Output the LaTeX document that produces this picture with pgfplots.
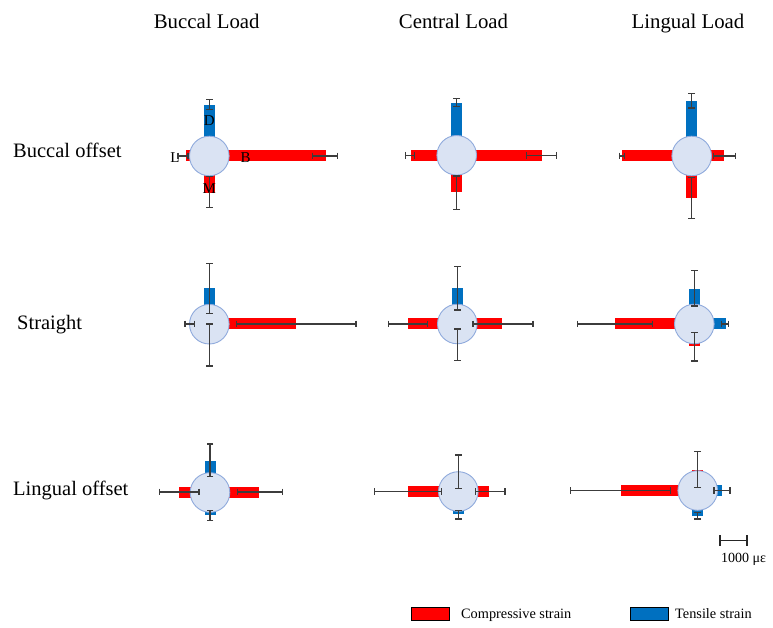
\documentclass[border=0pt]{standalone}
\usepackage{fontspec}
\setmainfont{Liberation Serif}
\usepackage{pgfplots}
\pgfplotsset{compat=1.18}
\definecolor{cred}{HTML}{FF0000}
\definecolor{cblue}{HTML}{0070C0}
\definecolor{circfill}{HTML}{DAE3F3}
\definecolor{circedge}{HTML}{8FAADC}
\definecolor{errc}{HTML}{3C3C3C}
\pgfplotsset{canvas/.style={
  width=773pt, height=628pt, scale only axis,
  xmin=0, xmax=773, ymin=0, ymax=628, y dir=reverse,
  hide axis, clip=false}}
% bar rectangle: x1 y1 x2 y2 colour
\newcommand{\rect}[5]{\addplot[fill=#5,draw=none,forget plot] coordinates {(#1,#2) (#3,#2) (#3,#4) (#1,#4)};}
% horizontal error bar: y xlo xhi
\newcommand{\eh}[3]{\addplot[errc, line width=1.1pt, mark=|, mark size=3.4pt, mark options={solid, line width=1.1pt}, forget plot] coordinates {(#2,#1) (#3,#1)};}
% vertical error bar: x ylo yhi
\newcommand{\ev}[3]{\addplot[errc, line width=1.1pt, mark=-, mark size=3.4pt, mark options={solid, line width=1.1pt}, forget plot] coordinates {(#1,#2) (#1,#3)};}
\begin{document}
\begin{tikzpicture}
\begin{axis}[canvas]
% ---------- bars (x1,y1,x2,y2) ----------
% Row 1: Buccal offset
\rect{203.8}{156}{214.8}{105}{cblue}
\rect{209.3}{150.5}{325.7}{161.5}{cred}
\rect{185.5}{150.5}{209.3}{161.5}{cred}
\rect{203.8}{156}{214.8}{192.7}{cred}
\rect{451.2}{155.3}{462.2}{103.3}{cblue}
\rect{456.7}{149.8}{541.7}{160.8}{cred}
\rect{410.5}{149.8}{456.7}{160.8}{cred}
\rect{451.2}{155.3}{462.2}{192.3}{cred}
\rect{686.2}{156}{697.2}{100.7}{cblue}
\rect{691.7}{150.5}{724}{161.5}{cred}
\rect{622.3}{150.5}{691.7}{161.5}{cred}
\rect{686.2}{156}{697.2}{198.3}{cred}
% Row 2: Straight
\rect{203.8}{324}{214.8}{288.3}{cblue}
\rect{209.3}{318.5}{295.7}{329.5}{cred}
\rect{451.8}{324}{462.8}{288.3}{cblue}
\rect{457.3}{318.5}{501.7}{329.5}{cred}
\rect{408.3}{318.5}{457.3}{329.5}{cred}
\rect{688.8}{324}{699.8}{289}{cblue}
\rect{694.3}{318.5}{725.7}{329.5}{cblue}
\rect{615}{318.5}{694.3}{329.5}{cred}
\rect{688.8}{324}{699.8}{346}{cred}
% Row 3: Lingual offset
\rect{204.5}{492.3}{215.5}{461}{cblue}
\rect{210}{486.5}{258.7}{497.5}{cred}
\rect{179.3}{486.5}{210}{497.5}{cred}
\rect{204.5}{492.3}{215.5}{515}{cblue}
\rect{452.8}{491.7}{463.8}{472.3}{cblue}
\rect{407.7}{486.2}{458.3}{497.2}{cred}
\rect{458.3}{486.2}{489.3}{497.2}{cred}
\rect{452.8}{491.7}{463.8}{514}{cblue}
\rect{692.2}{490.5}{703.2}{469.7}{cred}
\rect{620.7}{485}{697.7}{496}{cred}
\rect{697.7}{485}{721.7}{496}{cblue}
\rect{692.2}{490.5}{703.2}{515.7}{cblue}
% ---------- circles ----------
\addplot[only marks, mark=*, mark size=19.8pt, forget plot,
  mark options={fill=circfill, draw=circedge, line width=0.9pt}]
  coordinates {(209.3,156) (456.7,155.3) (691.7,156)
               (209.3,324.2) (457.3,324) (694.3,324)
               (210,492.5) (458.3,491.5) (697.7,490.5)};
\end{axis}
\begin{axis}[canvas]
% ---------- error bars ----------
\ev{209.3}{99.5}{109.5}   \ev{209.3}{176.5}{207.5}
\ev{456.7}{98.3}{106.7}   \ev{456.7}{176}{209.4}
\ev{691.7}{93.4}{108}     \ev{691.7}{177.7}{218.3}
\ev{209.3}{263.7}{313.3}  \ev{209.3}{324}{366}
\ev{457.3}{266.6}{310}    \ev{457.3}{329}{360.6}
\ev{694.3}{270.6}{306}    \ev{694.3}{332.6}{361}
\ev{210}{444}{476.6}      \ev{210}{510.3}{520.7}
\ev{458.3}{455}{488.4}    \ev{458.3}{510.6}{519}
\ev{697.7}{451.7}{487.7}  \ev{697.7}{512.6}{519}
\eh{156}{312.3}{337.7}    \eh{156}{178}{188}
\eh{155.3}{526.7}{556.7}  \eh{155.3}{405.7}{414.3}
\eh{156}{713.5}{735.5}    \eh{156}{619.7}{624.3}
\eh{324}{236.6}{356}      \eh{324}{185}{194.4}
\eh{324}{473}{533}        \eh{324}{388.7}{427.3}
\eh{324}{721.7}{728.3}    \eh{324}{577.3}{652.3}
\eh{492}{237.3}{282.3}    \eh{492}{159.4}{199}
\eh{491.7}{374.3}{441.7}  \eh{491.7}{475.6}{505}
\eh{490.5}{570.7}{670.7}  \eh{490.5}{714}{730}
% ---------- scale bar ----------
\addplot[black!85, line width=1.3pt, mark=|, mark size=5.5pt, mark options={solid, line width=1.3pt}, forget plot]
  coordinates {(720,540.7) (747,540.7)};
% ---------- legend boxes ----------
\addplot[fill=cred, draw=black, line width=0.6pt, forget plot] coordinates {(411.7,607) (449.3,607) (449.3,620) (411.7,620)} -- cycle;
\addplot[fill=cblue, draw=black, line width=0.6pt, forget plot] coordinates {(630,607) (668.3,607) (668.3,620) (630,620)} -- cycle;
% ---------- labels ----------
\begin{scope}[font=\fontsize{15}{17}\selectfont]
\node at (axis cs:209.3,120.7) {D};
\node at (axis cs:175,157.3) {L};
\node at (axis cs:245.7,157.3) {B};
\node at (axis cs:209.3,188.3) {M};
\end{scope}
\begin{scope}[font=\fontsize{20.8}{24}\selectfont]
\node[anchor=base, inner sep=0pt] at (axis cs:206.7,29) {Buccal Load};
\node[anchor=base, inner sep=0pt] at (axis cs:453.5,29) {Central Load};
\node[anchor=base, inner sep=0pt] at (axis cs:688,29) {Lingual Load};
\end{scope}
\begin{scope}[font=\fontsize{20.5}{23}\selectfont]
\node[anchor=base west, inner sep=0pt] at (axis cs:13,158) {Buccal offset};
\node[anchor=base west, inner sep=0pt] at (axis cs:17,329.5) {Straight};
\node[anchor=base west, inner sep=0pt] at (axis cs:13,495.5) {Lingual offset};
\end{scope}
\node[font=\fontsize{14.3}{16}\selectfont, anchor=base west, inner sep=0pt] at (axis cs:461,618.5) {Compressive strain};
\node[font=\fontsize{14.3}{16}\selectfont, anchor=base west, inner sep=0pt] at (axis cs:675,618.5) {Tensile strain};
\node[font=\fontsize{14}{16}\selectfont, anchor=base west, inner sep=0pt] at (axis cs:721,562) {1000 με};
\end{axis}
\pgfresetboundingbox
\path (current axis.south west) rectangle (current axis.north east);
\end{tikzpicture}
\end{document}
